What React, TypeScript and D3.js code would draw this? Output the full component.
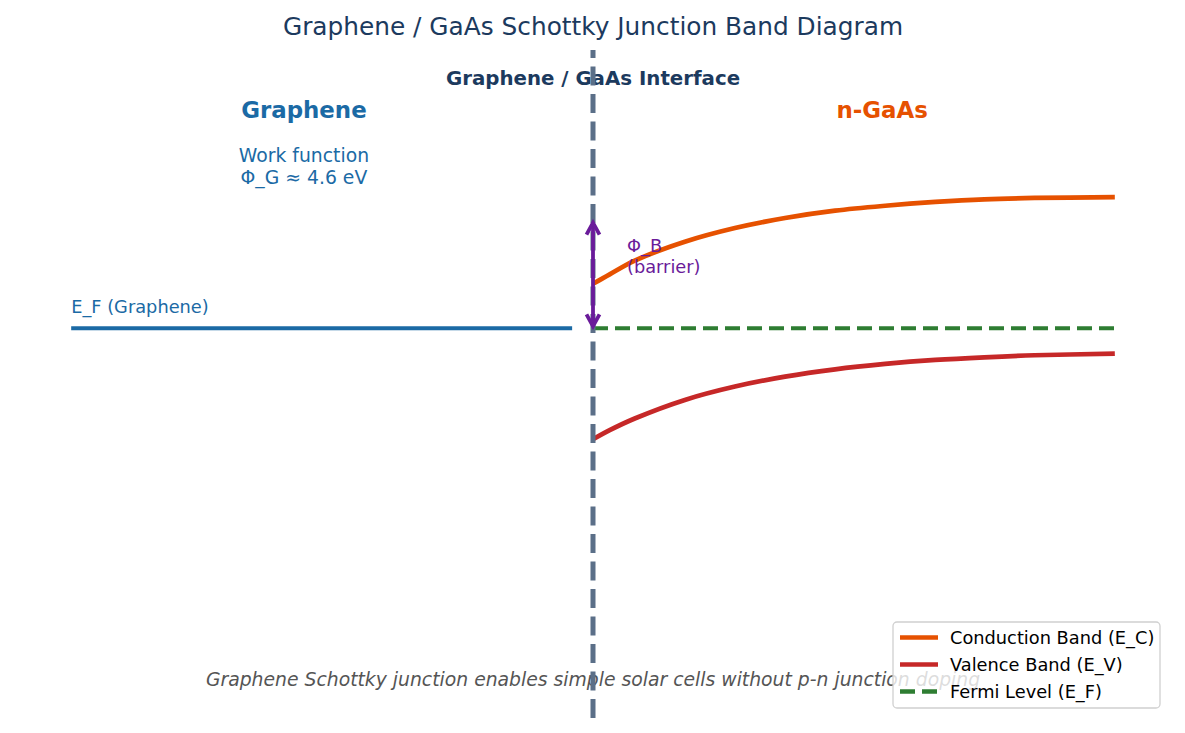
import React from "react";
import * as d3 from "d3";

const W = 1185;
const H = 733;

// GaAs side (x in arbitrary depth units from interface, energies in eV relative to E_F)
const gaasX = [0, 0.16, 0.4, 0.88, 1.36, 1.84, 2.32, 2.8, 3.28, 3.75, 4.23, 5.0];
const conductionBand = [0.40, 0.485, 0.608, 0.778, 0.901, 0.991, 1.057, 1.101, 1.135, 1.159, 1.171, 1.178];
const valenceBand = [-0.997, -0.915, -0.81, -0.643, -0.523, -0.434, -0.368, -0.32, -0.284, -0.26, -0.242, -0.228];
const fermiGaAs = [0, 5.0];
const graphenEF = [-5.0, -0.2];
const fermiLevel = 0;
const barrierTop = 0.94;

const legendItems = ["Conduction Band (E_C)", "Valence Band (E_V)", "Fermi Level (E_F)"];

const C = {
  title: "#1c3a5e",
  graphene: "#1b6aa5",
  gaas: "#e65100",
  cb: "#e65100",
  vb: "#c62828",
  ef: "#2e7d32",
  iface: "#5b6f88",
  barrier: "#6a1b9a",
  foot: "#555555",
};

const FONT = "DejaVu Sans, sans-serif";

export default function App() {
  const x = d3.scaleLinear().domain([-5.5, 5.5]).range([19, 1167]);
  const y = d3.scaleLinear().domain([-3.5, 2.5]).range([718, 50]);

  const line = d3
    .line<[number, number]>()
    .x((d) => x(d[0]))
    .y((d) => y(d[1]))
    .curve(d3.curveCatmullRom.alpha(0.5));

  const cbPath = line(gaasX.map((v, i) => [v, conductionBand[i]] as [number, number])) || "";
  const vbPath = line(gaasX.map((v, i) => [v, valenceBand[i]] as [number, number])) || "";

  const ax = x(0);
  const aTop = y(barrierTop) - 1;
  const aBot = y(fermiLevel) - 2;
  const hw = 6.5;
  const hl = 12;

  const legendColors = [C.cb, C.vb, C.ef];
  const legendDash = [null, null, "15 7"];

  return (
    <div style={{ position: "absolute", left: 0, top: 0 }}>
      <svg width={W} height={H} style={{ display: "block", background: "#fff" }} fontFamily={FONT}>
        {/* Title */}
        <text x={593} y={35} textAnchor="middle" fontSize={24.8} fill={C.title}>
          Graphene / GaAs Schottky Junction Band Diagram
        </text>

        {/* Region labels */}
        <text x={593} y={85} textAnchor="middle" fontSize={19.8} fontWeight="bold" fill={C.title}>
          Graphene / GaAs Interface
        </text>
        <text x={x(-2.77)} y={117.5} textAnchor="middle" fontSize={22.9} fontWeight="bold" fill={C.graphene}>
          Graphene
        </text>
        <text x={x(2.77)} y={117.5} textAnchor="middle" fontSize={22.9} fontWeight="bold" fill={C.gaas}>
          n-GaAs
        </text>
        <text x={x(-2.77)} y={162} textAnchor="middle" fontSize={18.8} fill={C.graphene}>
          Work function
        </text>
        <text x={x(-2.77)} y={183.5} textAnchor="middle" fontSize={18.8} fill={C.graphene}>
          Φ_G ≈ 4.6 eV
        </text>

        {/* Graphene Fermi level */}
        <line
          x1={x(graphenEF[0])}
          x2={x(graphenEF[1])}
          y1={y(fermiLevel)}
          y2={y(fermiLevel)}
          stroke={C.graphene}
          strokeWidth={4}
        />
        <text x={x(graphenEF[0])} y={313} fontSize={17.8} fill={C.graphene}>
          E_F (Graphene)
        </text>

        {/* GaAs bands */}
        <path d={cbPath} fill="none" stroke={C.cb} strokeWidth={4.7} />
        <path d={vbPath} fill="none" stroke={C.vb} strokeWidth={4.7} />
        <line
          x1={x(fermiGaAs[0])}
          x2={x(fermiGaAs[1])}
          y1={y(fermiLevel)}
          y2={y(fermiLevel)}
          stroke={C.ef}
          strokeWidth={4}
          strokeDasharray="15 7"
        />

        {/* Footer note */}
        <text x={593} y={686} textAnchor="middle" fontSize={18.8} fontStyle="italic" fill={C.foot}>
          Graphene Schottky junction enables simple solar cells without p-n junction doping
        </text>

        {/* Interface */}
        <line x1={ax} x2={ax} y1={718} y2={50} stroke={C.iface} strokeWidth={5} strokeDasharray="19 8.5" />

        {/* Barrier arrow */}
        <g stroke={C.barrier} strokeWidth={3.8} fill="none" strokeLinejoin="miter">
          <line x1={ax} x2={ax} y1={aTop + 2} y2={aBot - 2} />
          <path d={`M${ax - hw},${aTop + hl} L${ax},${aTop} L${ax + hw},${aTop + hl}`} />
          <path d={`M${ax - hw},${aBot - hl} L${ax},${aBot} L${ax + hw},${aBot - hl}`} />
        </g>
        <text x={627} y={252} fontSize={17.8} fill={C.barrier}>
          Φ_B
        </text>
        <text x={627} y={273} fontSize={17.8} fill={C.barrier}>
          (barrier)
        </text>

        {/* Legend */}
        <g>
          <rect x={893} y={622} width={267} height={86} rx={4} fill="#ffffff" fillOpacity={0.8} stroke="#d0d0d0" strokeWidth={1.3} />
          {legendItems.map((t, i) => {
            const yy = 637.5 + i * 27;
            return (
              <g key={t}>
                <line
                  x1={900}
                  x2={938}
                  y1={yy}
                  y2={yy}
                  stroke={legendColors[i]}
                  strokeWidth={4.5}
                  strokeDasharray={legendDash[i] || undefined}
                />
                <text x={950} y={yy + 6.3} fontSize={17.8} fill="#000">
                  {t}
                </text>
              </g>
            );
          })}
        </g>
      </svg>
    </div>
  );
}
